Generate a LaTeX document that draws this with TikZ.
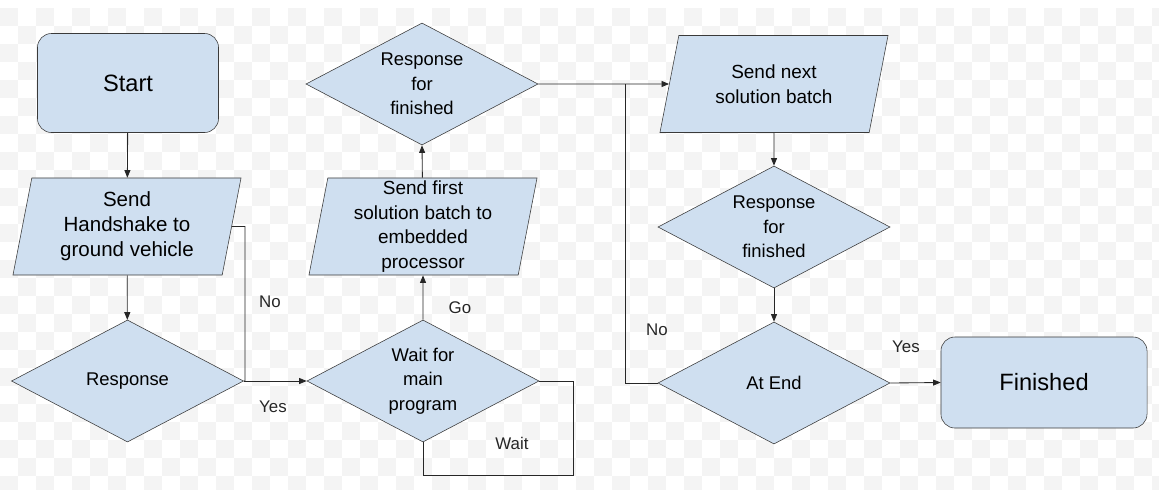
\documentclass[tikz,border=0pt]{standalone}
\usepackage{fontspec}
\setmainfont{Liberation Sans}
\usetikzlibrary{shapes.geometric,arrows.meta}
\definecolor{boxfill}{HTML}{CFDFF0}
\definecolor{boxline}{HTML}{3A3A3A}
\definecolor{checker}{HTML}{F4F4F4}
\newcommand{\iobox}[1]{\parbox[c][2.425cm][c]{4.4cm}{\centering #1}}
\tikzset{
  terminal/.style={draw=boxline,fill=boxfill,rounded corners=0.35cm,align=center,
    font=\fontsize{16.8}{20}\selectfont},
  io/.style={draw=boxline,fill=boxfill,trapezium,trapezium left angle=79,trapezium right angle=101,
    trapezium stretches body,minimum width=5.7cm,inner sep=0pt,
    font=\fontsize{13.5}{17.4}\selectfont},
  decision/.style={draw=boxline,fill=boxfill,diamond,aspect=2,inner sep=0pt,
    minimum width=5.8cm,minimum height=3.05cm,align=center,
    font=\fontsize{13.1}{17.4}\selectfont},
  line/.style={draw=black!85,line width=0.6pt},
  arrow/.style={line,-{Triangle[length=1.9mm,width=1.5mm]}},
  lbl/.style={font=\fontsize{12}{14}\selectfont,text=black!85}
}
\begin{document}
\begin{tikzpicture}[x=0.025cm,y=-0.025cm]
\useasboundingbox (0,0) rectangle (1159,489);
% faint checker background
\foreach \i in {0,...,64}
  \foreach \j in {0,...,26}{
    \pgfmathparse{int(mod(\i+\j,2))}
    \ifnum\pgfmathresult=0
      \fill[checker] (\i*18,8+\j*18) rectangle ++(18,18);
    \fi
  }
% nodes
\node[terminal,minimum width=4.525cm,minimum height=2.475cm] (start) at (128,83) {Start};
\node[io,font=\fontsize{14.6}{17.8}\selectfont] (hs) at (127,226.5) {\iobox{Send\\Handshake to\\ground vehicle}};
\node[decision] (resp) at (127.5,381) {Response};
\node[decision] (wait) at (423,381) {Wait for\\main\\program};
\node[io] (sf) at (423,226.5) {\iobox{Send first\\solution batch to\\embedded\\processor}};
\node[decision] (rf1) at (422,84) {Response\\for\\finished};
\node[io] (sn) at (774,84) {\iobox{Send next\\solution batch}};
\node[decision] (rf2) at (774,227) {Response\\for\\finished};
\node[decision] (atend) at (774,383) {At End};
\node[terminal,minimum width=5.15cm,minimum height=2.275cm] (fin) at (1044,382.5) {Finished};
\coordinate (noturn) at (245,226.5);
\coordinate (waitloop) at (573,475);
\coordinate (nojoin) at (625,84);
% connectors
\draw[arrow] (start) -- (hs);
\draw[arrow] (hs) -- (resp);
\draw[line] (resp.east) -| (noturn) -- (hs.east);
\draw[arrow] (resp.east) -- (wait.west);
\draw[line] (wait.east) -| (waitloop) -| (wait.south);
\draw[arrow] (wait.north) -- (sf);
\draw[arrow] (sf) -- (rf1.south);
\draw[arrow] (rf1.east) -- (sn);
\draw[arrow] (sn) -- (rf2.north);
\draw[arrow] (rf2.south) -- (atend.north);
\draw[line] (atend.west) -| (nojoin);
\draw[arrow] (atend.east) -- (fin.west);
% labels
\node[lbl] (lno1) at (270,302) {No};
\node[lbl] (lyes1) at (273,407) {Yes};
\node[lbl] (lgo) at (460,308) {Go};
\node[lbl] (lwait) at (512,443) {Wait};
\node[lbl] (lno2) at (657,330) {No};
\node[lbl] (lyes2) at (906,347) {Yes};
\end{tikzpicture}
\end{document}
